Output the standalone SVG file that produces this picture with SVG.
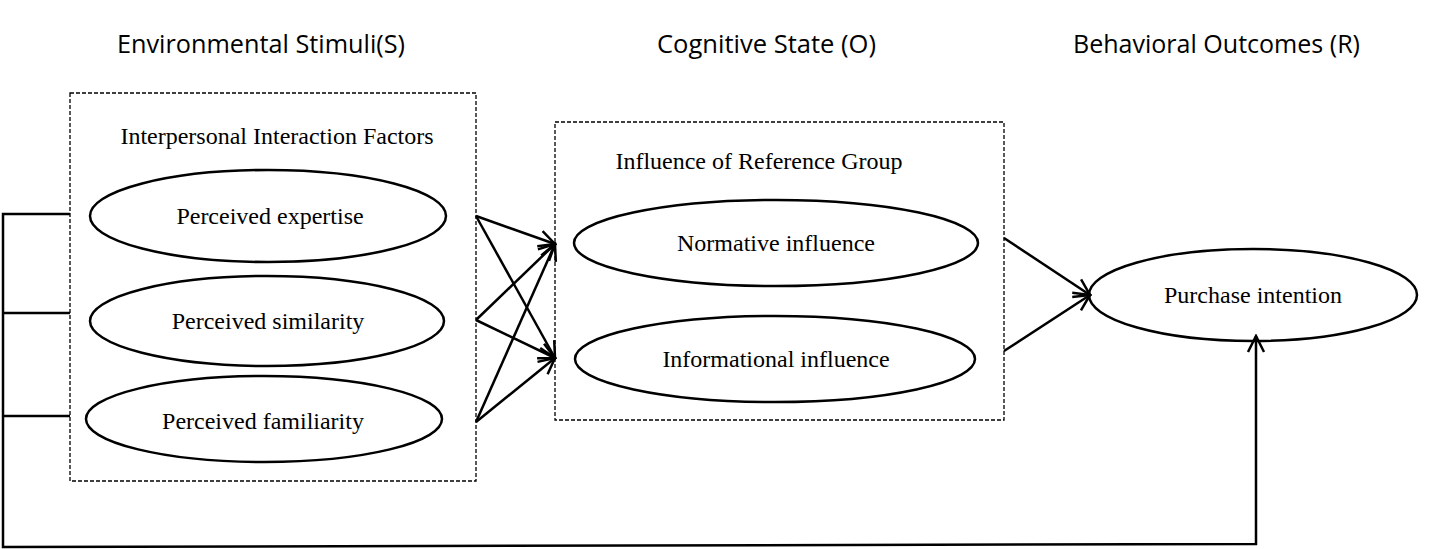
<svg xmlns="http://www.w3.org/2000/svg" width="1431" height="549" viewBox="0 0 1431 549">
<style>
.box{fill:none;stroke:#000;stroke-width:1.3;stroke-dasharray:4,2}
.ell{fill:#fff;stroke:#000;stroke-width:2.5}
.lbl{font-family:"Liberation Serif",serif;font-size:24px;fill:#000;text-anchor:middle}
.hd{font-family:"Open Sans","Noto Sans",sans-serif;font-size:26px;fill:#000}
.con{fill:none;stroke:#000;stroke-width:2.5}
</style>
<defs>
<marker id="ah" viewBox="0 0 20 20" refX="18" refY="10" markerWidth="20" markerHeight="20" markerUnits="userSpaceOnUse" orient="auto">
<polyline points="2,2 18,10 2,18" fill="none" stroke="#000" stroke-width="2.5"/>
</marker>
</defs>
<rect width="1431" height="549" fill="#fff"/>
<g id="headings">
<text class="hd" x="117" y="53" textLength="288" lengthAdjust="spacingAndGlyphs">Environmental Stimuli(S)</text>
<text class="hd" x="657" y="53" textLength="219" lengthAdjust="spacingAndGlyphs">Cognitive State (O)</text>
<text class="hd" x="1073" y="53" textLength="287" lengthAdjust="spacingAndGlyphs">Behavioral Outcomes (R)</text>
</g>
<g id="stimuli-group">
<rect class="box" x="70" y="93" width="406" height="388"/>
<text class="lbl" x="277" y="144">Interpersonal Interaction Factors</text>
</g>
<g id="expertise">
<ellipse class="ell" cx="268" cy="216" rx="178" ry="46"/>
<text class="lbl" x="270" y="224">Perceived expertise</text>
</g>
<g id="similarity">
<ellipse class="ell" cx="267" cy="321" rx="177" ry="45"/>
<text class="lbl" x="268" y="329">Perceived similarity</text>
</g>
<g id="familiarity">
<ellipse class="ell" cx="264" cy="419" rx="178" ry="43"/>
<text class="lbl" x="263" y="429">Perceived familiarity</text>
</g>
<g id="cognitive-group">
<rect class="box" x="555" y="122" width="449" height="298"/>
<text class="lbl" x="759" y="169">Influence of Reference Group</text>
</g>
<g id="normative">
<ellipse class="ell" cx="776" cy="243" rx="202" ry="43"/>
<text class="lbl" x="776" y="251">Normative influence</text>
</g>
<g id="informational">
<ellipse class="ell" cx="775" cy="359" rx="200" ry="43"/>
<text class="lbl" x="776" y="367">Informational influence</text>
</g>
<g id="purchase">
<ellipse class="ell" cx="1253" cy="295" rx="164" ry="46"/>
<text class="lbl" x="1253" y="303">Purchase intention</text>
</g>
<g id="connectors">
<line class="con" x1="476" y1="216" x2="555" y2="244" marker-end="url(#ah)"/>
<line class="con" x1="476" y1="216" x2="555" y2="358" marker-end="url(#ah)"/>
<line class="con" x1="476" y1="320" x2="555" y2="244" marker-end="url(#ah)"/>
<line class="con" x1="476" y1="320" x2="555" y2="358" marker-end="url(#ah)"/>
<line class="con" x1="476" y1="422" x2="555" y2="244" marker-end="url(#ah)"/>
<line class="con" x1="476" y1="422" x2="555" y2="358" marker-end="url(#ah)"/>
<line class="con" x1="1004" y1="238" x2="1090" y2="295" marker-end="url(#ah)"/>
<line class="con" x1="1004" y1="351" x2="1090" y2="295" marker-end="url(#ah)"/>
<polyline class="con" points="70,214 3,214 3,547 1256,544 1256,336" marker-end="url(#ah)"/>
<line class="con" x1="3" y1="313" x2="70" y2="313"/>
<line class="con" x1="3" y1="416" x2="70" y2="416"/>
</g>
</svg>
